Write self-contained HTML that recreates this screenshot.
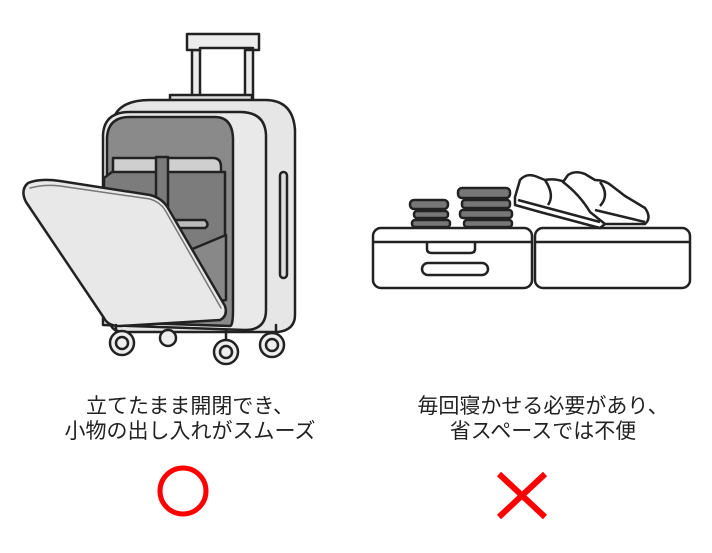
<!DOCTYPE html>
<html><head><meta charset="utf-8"><style>
html,body{margin:0;padding:0;background:#fff;}
svg{display:block}
text{font-family:"Liberation Sans","Noto Sans CJK JP",sans-serif;font-size:21px;fill:#222;}
</style></head><body>
<svg width="712" height="553" viewBox="0 0 712 553" xmlns="http://www.w3.org/2000/svg">
<g stroke="#222" stroke-width="2.5" stroke-linejoin="round" stroke-linecap="round">
<!-- handle -->
<path d="M192 50 h8 v50 h-8z M245 50 h8 v50 h-8z" fill="#ececec"/>
<path d="M187 34 H259 V50 H253 V48 H200 V50 H187 Z" fill="#ececec"/>
<rect x="170" y="95" width="82" height="6" fill="#ddd"/>
<!-- back body -->
<path d="M150 100 Q115 100 112 125 L110 320 Q110 332 125 332 L278 332 Q295 330 295 315 L295 130 Q293 100 265 100 Z" fill="#e6e6e6"/>
<!-- front frame -->
<path d="M130 112 Q104 112 103 135 L103 325 L245 330 Q266 330 266 310 L266 135 Q265 112 240 112 Z" fill="#e9e9e9"/>
<path d="M130 117 Q108 117 107 138 L107 322 L230 326 Q233 326 233 310 L233 138 Q232 117 215 117 Z" fill="#8a8a8a"/>
<!-- laptop / pockets -->
<path d="M113 175 V158 H213 Q221 158 221 167 V186 H113" fill="#cfcfcf"/>
<path d="M104 178 L112 172 H225 V300 H104 Z" fill="#7c7c7c"/>
<rect x="156" y="157" width="12" height="60" fill="#7a7a7a"/>
<path d="M160 220 H205 Q210 225 205 228 H165 Z" fill="#bbb"/>
<path d="M190 250 L226 235 V300 L192 305 Z" fill="#888"/>
<!-- side slot -->
<rect x="280" y="172" width="7" height="106" rx="3.5" fill="#ddd"/>
<!-- open lid -->
<path d="M28 183 Q40 178 60 181 L150 195 Q162 198 168 208 L225 306 Q228 316 220 320 L120 326 Q108 326 104 318 L26 202 Q20 190 28 183 Z" fill="#e8e8e8"/>
<path d="M30 188 Q45 184 60 186 L150 199 Q160 202 165 210 L221 308" fill="none" stroke="#777" stroke-width="1.5"/>
<!-- wheels -->
<g fill="#eee">
<path d="M116 325 v12 M276 325 v12 M226 330 v10"/>
<circle cx="122" cy="343" r="12"/><circle cx="122" cy="343" r="6"/>
<circle cx="168" cy="338" r="8"/>
<circle cx="226" cy="352" r="12"/><circle cx="226" cy="352" r="6"/>
<circle cx="272" cy="345" r="12"/><circle cx="272" cy="345" r="6"/>
</g>
</g>
<!-- right image -->
<g stroke="#222" stroke-width="2.5" fill="#fff" stroke-linejoin="round">
<rect x="373" y="228" width="159" height="60" rx="8"/>
<rect x="535" y="228" width="155" height="60" rx="8"/>
<path d="M374 242 H531 M536 242 H689" fill="none"/>
<path d="M427 242 V249 Q427 253 432 253 H470 Q475 253 475 249 V242" fill="none"/>
<rect x="422" y="263" width="66" height="12" rx="6"/>
<!-- books -->
<g fill="#777">
<rect x="410" y="200" width="38" height="9" rx="4"/>
<rect x="414" y="211" width="34" height="7" rx="3"/>
<rect x="412" y="220" width="38" height="7" rx="3"/>
<rect x="458" y="188" width="52" height="10" rx="4"/>
<rect x="462" y="200" width="48" height="8" rx="3"/>
<rect x="460" y="210" width="52" height="8" rx="3"/>
<rect x="464" y="220" width="48" height="7" rx="3"/>
</g>
<!-- shoes -->
<path d="M515 197 L520 180 Q526 173 535 176 L545 180 Q555 178 565 182 L575 190 L602 203 Q612 212 605 224 L600 228 L540 212 L515 205 Z"/>
<path d="M518 200 L600 222 M545 180 Q555 195 548 205" fill="none"/>
<path d="M563 182 L568 175 Q575 170 585 174 L595 180 Q605 180 612 186 L625 196 L645 208 Q652 218 645 224 L605 224 L590 212 Q580 195 563 182 Z"/>
<path d="M595 210 L645 222 M600 182 Q610 195 600 206" fill="none"/>
</g>
<!-- text -->
<text x="190" y="413" text-anchor="middle">立てたまま開閉でき、</text>
<text x="190" y="438" text-anchor="middle">小物の出し入れがスムーズ</text>
<text x="543" y="413" text-anchor="middle">毎回寝かせる必要があり、</text>
<text x="543" y="438" text-anchor="middle">省スペースでは不便</text>
<circle cx="183" cy="491" r="23" fill="none" stroke="#f00" stroke-width="5"/>
<path d="M499 474 L545 517 M545 474 L499 517" stroke="#f00" stroke-width="6"/>
</svg>
</body></html>
